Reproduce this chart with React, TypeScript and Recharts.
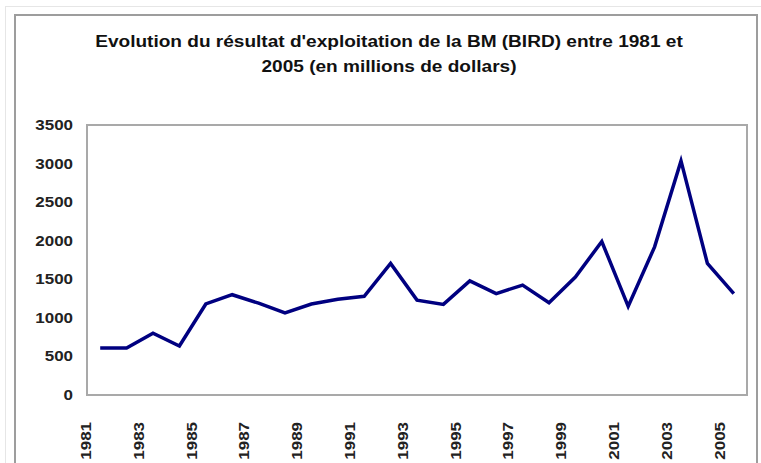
import React from "react";
import { LineChart, Line, XAxis, YAxis, ReferenceArea } from "recharts";

// résultat d'exploitation BIRD, millions de dollars
const years = [
  "1981", "1982", "1983", "1984", "1985", "1986", "1987", "1988", "1989",
  "1990", "1991", "1992", "1993", "1994", "1995", "1996", "1997", "1998",
  "1999", "2000", "2001", "2002", "2003", "2004", "2005",
];
const resultat = [
  610, 610, 800, 635, 1180, 1300, 1190, 1065, 1180, 1240, 1280, 1705, 1230,
  1175, 1480, 1315, 1425, 1195, 1530, 1990, 1150, 1920, 3035, 1705, 1315,
];
const yTicks = [0, 500, 1000, 1500, 2000, 2500, 3000, 3500];
const titleLines = [
  "Evolution du résultat d'exploitation de la BM (BIRD) entre 1981 et",
  "2005 (en millions de dollars)",
];

const data = years.map((y, i) => ({ year: y, value: resultat[i] }));

const FONT = "'Liberation Sans', Arial, sans-serif";
const W = 761;
const H = 463;
const PLOT = { left: 87, right: 747, top: 125, bottom: 395 };
// the source picture is a bit stretched sideways, so is its text
const STRETCH = 1.17;

const YearTick = (props: any) => {
  const { x, y, payload } = props;
  const half = payload?.offset ?? (PLOT.right - PLOT.left) / years.length / 2;
  return (
    <text
      x={0}
      y={0}
      transform={`translate(${x - half - 1},${y + 27}) rotate(-90) scale(${STRETCH},1)`}
      textAnchor="end"
      dominantBaseline="central"
      fontFamily={FONT}
      fontWeight="bold"
      fontSize={14.5}
      fill="#222"
    >
      {payload.value}
    </text>
  );
};

const ValueTick = (props: any) => {
  const { x, y, payload } = props;
  return (
    <text
      x={0}
      y={0}
      transform={`translate(${x},${y}) scale(${STRETCH},1)`}
      textAnchor="end"
      dominantBaseline="central"
      fontFamily={FONT}
      fontWeight="bold"
      fontSize={14.5}
      fill="#222"
    >
      {payload.value}
    </text>
  );
};

export default function App() {
  return (
    <div style={{ position: "absolute", left: 0, top: 0, width: W, height: H, background: "#fff", overflow: "hidden" }}>
      <div style={{ position: "absolute", left: 5, top: 6, width: 800, height: 500, border: "1px solid #e6e6e6" }} />
      <div style={{ position: "absolute", left: 14, top: 14, width: 744, height: 500, border: "2px solid #9d9d9d", boxSizing: "border-box" }} />
      <div
        style={{
          position: "absolute",
          left: 0,
          top: 29,
          width: 778,
          textAlign: "center",
          fontFamily: FONT,
          fontWeight: "bold",
          fontSize: 16,
          lineHeight: "25px",
          color: "#111",
          transform: "scaleX(1.19)",
          transformOrigin: "389px 0",
        }}
      >
        {titleLines.map((t) => (
          <div key={t}>{t}</div>
        ))}
      </div>
      <LineChart
        width={W}
        height={H}
        data={data}
        margin={{ top: PLOT.top, right: W - PLOT.right, left: PLOT.left - 60, bottom: H - PLOT.bottom - 60 }}
        style={{ position: "absolute", left: 0, top: 0 }}
      >
        <ReferenceArea y1={0} y2={3500} fill="none" stroke="#a9a9a9" strokeWidth={2} />
        <XAxis
          dataKey="year"
          scale="band"
          interval={1}
          height={60}
          axisLine={false}
          tickLine={false}
          tickSize={0}
          tickMargin={0}
          tick={<YearTick />}
        />
        <YAxis
          domain={[0, 3500]}
          ticks={yTicks}
          width={60}
          axisLine={false}
          tickLine={false}
          tickSize={12}
          tickMargin={2}
          tick={<ValueTick />}
        />
        <Line
          type="linear"
          dataKey="value"
          stroke="#000080"
          strokeWidth={3.5}
          dot={false}
          isAnimationActive={false}
        />
      </LineChart>
    </div>
  );
}
